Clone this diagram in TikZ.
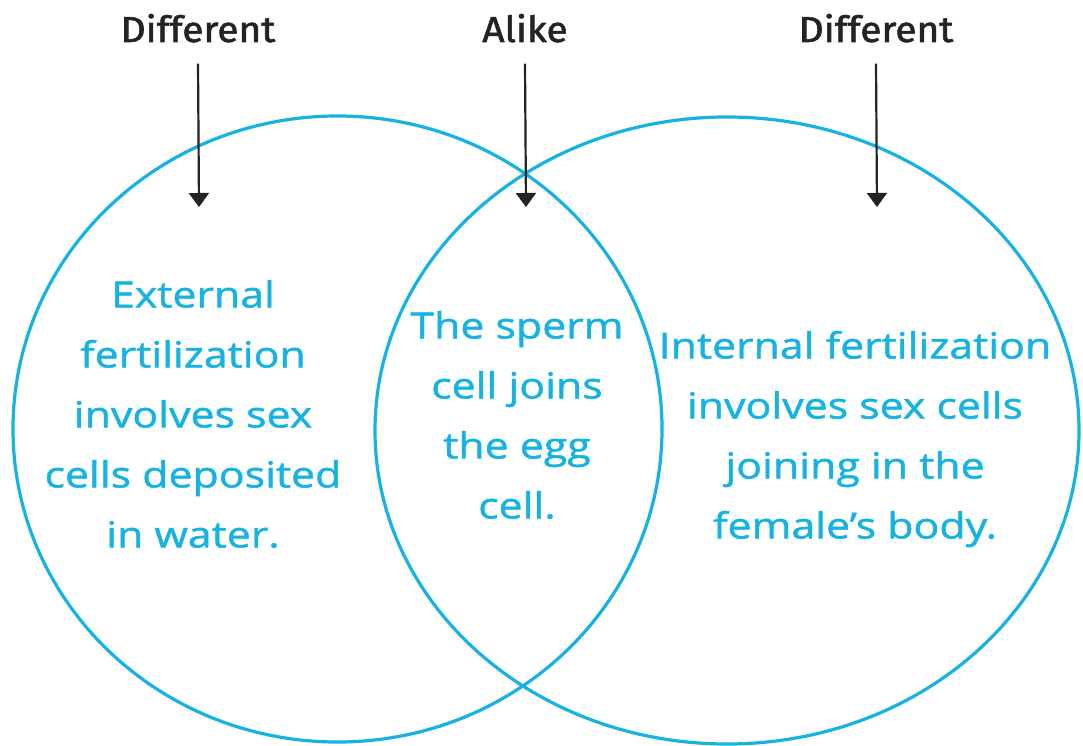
\documentclass[tikz,border=0pt]{standalone}
\usepackage{fontspec}
\setmainfont{Open Sans}
\newfontfamily\bodyfont[FakeStretch=1.19, FakeBold=1.3]{Open Sans}
\newfontfamily\labfont[FakeStretch=1.08, FakeBold=1.6]{Fira Sans}
\usetikzlibrary{arrows.meta,shapes.geometric}
\definecolor{venncyan}{RGB}{22,178,226}
\definecolor{labgray}{RGB}{35,35,35}
\begin{document}
\begin{tikzpicture}[x=1pt,y=-1pt,
  venn/.style={draw=venncyan, line width=3.2pt, ellipse, inner sep=0pt},
  body/.style={text=venncyan, font=\bodyfont\fontsize{36}{60}\selectfont, align=center, inner sep=0pt},
  lab/.style={text=labgray, font=\labfont\fontsize{36}{40}\selectfont, inner sep=0pt, anchor=base},
  pointer/.style={draw=labgray, line width=2.2pt, -{Triangle[width=20pt,length=14pt]}}]
\useasboundingbox[fill=white] (0,0) rectangle (1083,746);
\node[venn, minimum width=649pt, minimum height=626pt] (L) at (337.5,429) {};
\node[venn, minimum width=704pt, minimum height=627pt] (R) at (727,430.5) {};
\node[body] (lt) at (193,414) {External\\fertilization\\involves sex\\cells deposited\\in water.};
\node[body] (mt) at (517,415) {The sperm\\cell joins\\the egg\\cell.};
\node[body] (rt) at (855,439) {Internal fertilization\\involves sex cells\\joining in the\\female’s body.};
\node[lab] (d1) at (198,42) {Different};
\node[lab] (a1) at (525,42) {Alike};
\node[lab] (d2) at (876,42) {Different};
\coordinate (t1) at (199,207);
\coordinate (t2) at (526,207);
\coordinate (t3) at (877,207);
\draw[pointer] ([yshift=-21pt]d1.south) -- (t1);
\draw[pointer] ([yshift=-21pt]a1.south) -- (t2);
\draw[pointer] ([yshift=-21pt]d2.south) -- (t3);
\end{tikzpicture}
\end{document}
